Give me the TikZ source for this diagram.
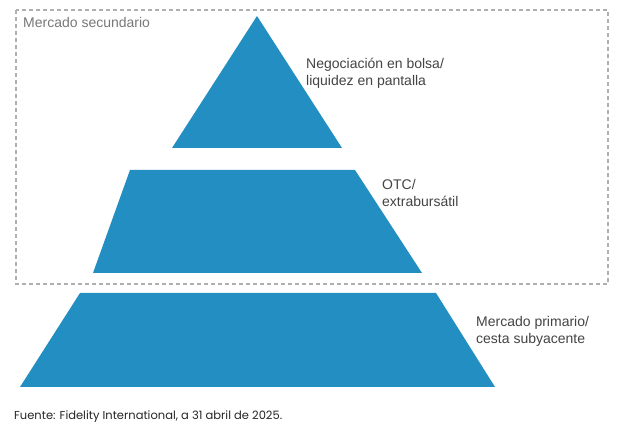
\documentclass[tikz,border=0pt]{standalone}
\usepackage{fontspec}
\setmainfont{Liberation Sans}
\newfontfamily\footfont{Poppins}
\definecolor{pyrblue}{RGB}{34,142,193}
\definecolor{boxgray}{RGB}{175,175,175}
\definecolor{lblgray}{RGB}{68,68,68}
\definecolor{ttlgray}{RGB}{120,120,120}
\begin{document}
\begin{tikzpicture}[x=1pt,y=-1pt,
  tier/.style={fill=pyrblue,draw=none},
  lbl/.style={anchor=west,align=left,inner sep=0pt,text=lblgray,font=\fontsize{14}{17}\selectfont}]
\useasboundingbox[fill=white] (0,0) rectangle (624,435);
% dashed frame
\draw[boxgray,line width=1.4pt,dash pattern=on 4pt off 3pt] (16,10) rectangle (608,284);
\node[anchor=west,inner sep=0pt,text=ttlgray,font=\fontsize{14}{17}\selectfont] (sec) at (23,23) {Mercado secundario};
% tiers
\fill[tier] (257,16) -- (342,148) -- (172,148) -- cycle;
\fill[tier] (130,170) -- (355,170) -- (422,273) -- (93,273) -- cycle;
\fill[tier] (80,293) -- (436,293) -- (495,387) -- (20,387) -- cycle;
% labels
\node[lbl] (neg) at (306,73.5) {Negociación en bolsa/\\liquidez en pantalla};
\node[lbl] (otc) at (382,192.5) {OTC/\\extrabursátil};
\node[lbl] (pri) at (476,331) {Mercado primario/\\cesta subyacente};
\node[anchor=west,inner sep=0pt,text=black!85,font=\footfont\fontsize{11.5}{13}\selectfont] (src) at (14,417) {Fuente: Fidelity International, a 31 abril de 2025.};
\end{tikzpicture}
\end{document}
